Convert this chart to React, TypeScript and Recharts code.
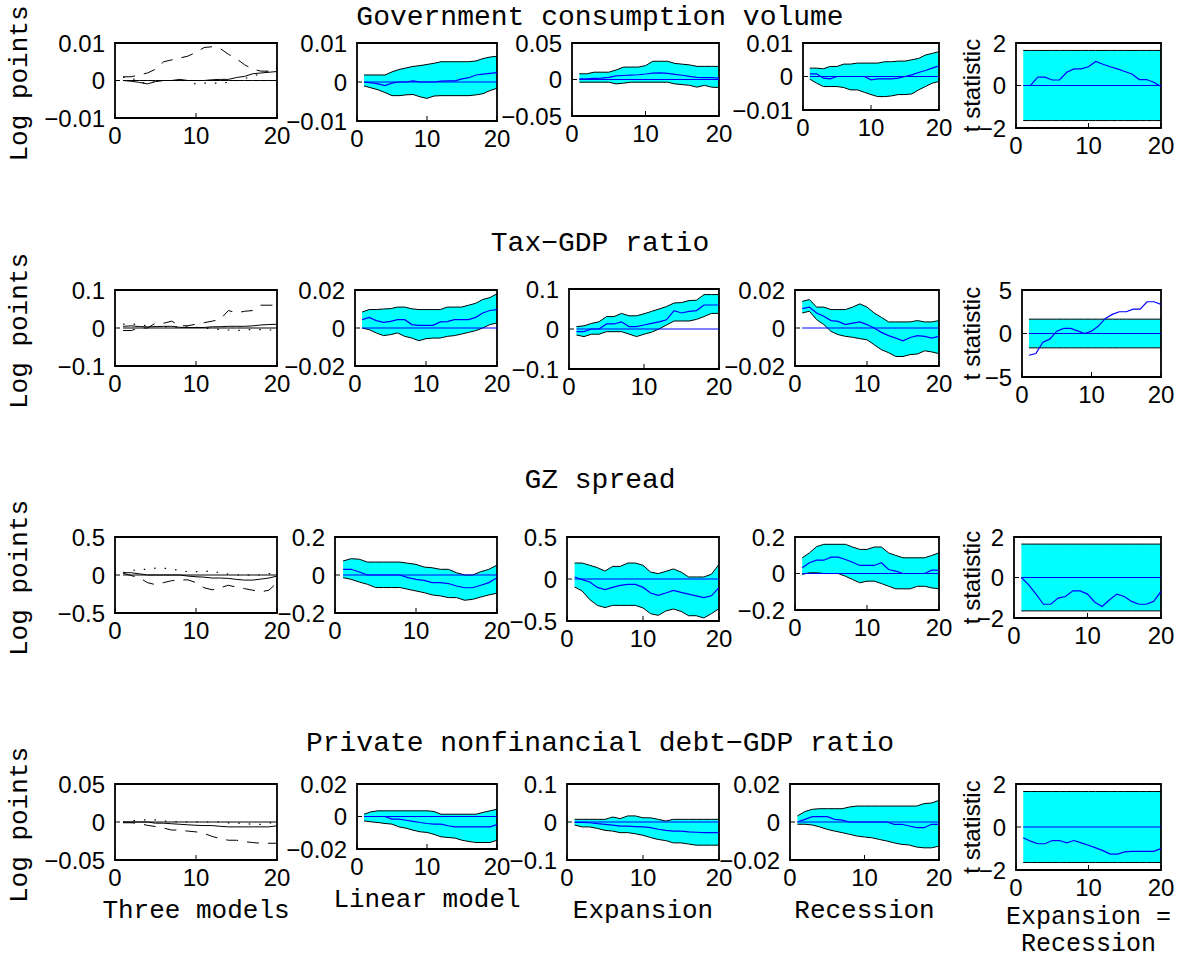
import React from "react";
import { ComposedChart, Line, Area, XAxis, YAxis, ReferenceArea } from "recharts";

// horizons (quarters after the shock)
const HORIZONS = [1, 2, 3, 4, 5, 6, 7, 8, 9, 10, 11, 12, 13, 14, 15, 16, 17, 18, 19, 20];
const X_TICKS = [0, 10, 20];
const CRIT = 1.65;

const TITLES = [
  "Government consumption volume",
  "Tax\u2212GDP ratio",
  "GZ spread",
  "Private nonfinancial debt\u2212GDP ratio",
];
const X_LABELS = ["Three models", "Linear model", "Expansion", "Recession"];
const LAST_X_LABEL = ["Expansion =", "Recession"];

// y-axis limits for each row: three models, linear, expansion, recession, t stat
const LIMS = [
  [0.01, 0.01, 0.05, 0.01, 2],
  [0.1, 0.02, 0.1, 0.02, 5],
  [0.5, 0.2, 0.5, 0.2, 2],
  [0.05, 0.02, 0.1, 0.02, 2],
];

// Government consumption volume
const GOV_LIN = [0, -0.0002, -0.0005, -0.0009, -0.0003, 0, 0, 0.0003, 0, 0, 0, 0.0002, 0.0003, 0.0003, 0.0008, 0.0011, 0.0018, 0.002, 0.0022, 0.0024];
const GOV_LIN_HI = [0.0018, 0.0018, 0.0018, 0.0018, 0.0026, 0.0032, 0.0036, 0.004, 0.0042, 0.0045, 0.0048, 0.0052, 0.0052, 0.0052, 0.0052, 0.0052, 0.0054, 0.006, 0.0064, 0.0066];
const GOV_LIN_LO = [-0.001, -0.0015, -0.002, -0.0027, -0.0035, -0.0035, -0.0033, -0.0032, -0.0038, -0.0042, -0.0036, -0.0035, -0.0035, -0.0035, -0.0035, -0.0035, -0.0033, -0.003, -0.0022, -0.0016];
const GOV_EXP = [0.001, 0.001, 0.0015, 0.002, 0.003, 0.005, 0.0055, 0.006, 0.0065, 0.0075, 0.0088, 0.009, 0.0085, 0.007, 0.0058, 0.0042, 0.003, 0.0025, 0.0025, 0.002];
const GOV_EXP_HI = [0.0078, 0.0078, 0.01, 0.01, 0.01, 0.013, 0.017, 0.017, 0.017, 0.019, 0.025, 0.025, 0.025, 0.022, 0.021, 0.02, 0.018, 0.018, 0.018, 0.018];
const GOV_EXP_LO = [-0.0037, -0.0037, -0.0037, -0.0037, -0.0037, -0.006, -0.005, -0.0037, -0.0037, -0.0037, -0.0037, -0.0037, -0.0037, -0.006, -0.007, -0.008, -0.0105, -0.008, -0.0105, -0.011];
const GOV_REC = [0.0008, 0.0008, -0.0005, -0.0007, 0, 0, 0, 0, 0, -0.001, -0.0007, -0.0007, -0.0007, -0.0005, 0, 0.0005, 0.0012, 0.0018, 0.0025, 0.0032];
const GOV_REC_HI = [0.0025, 0.0025, 0.0023, 0.003, 0.003, 0.0037, 0.0037, 0.004, 0.004, 0.004, 0.004, 0.0044, 0.0044, 0.0046, 0.0046, 0.005, 0.0054, 0.0064, 0.0069, 0.0074];
const GOV_REC_LO = [-0.0008, -0.002, -0.003, -0.003, -0.003, -0.0033, -0.004, -0.004, -0.0047, -0.0054, -0.006, -0.006, -0.0058, -0.0054, -0.0054, -0.0052, -0.004, -0.003, -0.002, -0.0015];
const GOV_T = [0, 0, 0.39, 0.39, 0.26, 0.26, 0.62, 0.78, 0.78, 0.88, 1.13, 1.0, 0.88, 0.78, 0.66, 0.54, 0.28, 0.28, 0.15, -0.05];

// Tax-GDP ratio
const TAX_LIN = [0.0044, 0.0056, 0.0039, 0.003, 0.0035, 0.0044, 0.0044, 0.0018, 0.0014, 0.0014, 0.0014, 0.0032, 0.0034, 0.0044, 0.0044, 0.0044, 0.0056, 0.0079, 0.0092, 0.0097];
const TAX_LIN_HI = [0.0084, 0.0097, 0.0097, 0.01, 0.0102, 0.011, 0.011, 0.0101, 0.0097, 0.0097, 0.0097, 0.0097, 0.011, 0.011, 0.011, 0.012, 0.013, 0.015, 0.016, 0.018];
const TAX_LIN_LO = [0, -0.0009, -0.0026, -0.004, -0.0035, -0.0026, -0.0044, -0.0053, -0.0067, -0.0056, -0.0053, -0.0053, -0.0044, -0.004, -0.0032, -0.0023, -0.0014, 0, 0.0018, 0.0026];
const TAX_EXP = [-0.0067, -0.0067, 0, 0, 0.0126, 0.0126, 0.018, 0.006, 0.006, 0.01, 0.014, 0.018, 0.023, 0.046, 0.04, 0.044, 0.046, 0.06, 0.06, 0.06];
const TAX_EXP_HI = [0.006, 0.008, 0.014, 0.018, 0.031, 0.031, 0.039, 0.033, 0.033, 0.038, 0.044, 0.05, 0.056, 0.065, 0.066, 0.071, 0.072, 0.086, 0.086, 0.086];
const TAX_EXP_LO = [-0.015, -0.019, -0.013, -0.013, -0.0067, -0.0067, -0.0067, -0.0126, -0.019, -0.013, -0.008, 0, 0.01, 0.02, 0.02, 0.02, 0.024, 0.031, 0.039, 0.039];
const TAX_REC = [0.0102, 0.011, 0.0079, 0.0062, 0.0039, 0.0035, 0.0018, 0.0026, 0.0032, 0.0018, 0, -0.0023, -0.004, -0.0053, -0.0067, -0.005, -0.004, -0.0044, -0.0053, -0.0044];
const TAX_REC_HI = [0.014, 0.015, 0.011, 0.011, 0.0097, 0.0097, 0.0097, 0.011, 0.0127, 0.011, 0.0079, 0.0056, 0.0032, 0.0032, 0.0032, 0.0032, 0.0039, 0.0032, 0.0032, 0.0039];
const TAX_REC_LO = [0.0079, 0.0088, 0.0044, 0.0018, -0.0018, -0.0035, -0.0044, -0.0049, -0.0056, -0.0062, -0.0088, -0.0114, -0.013, -0.015, -0.015, -0.014, -0.0137, -0.012, -0.0126, -0.0135];
const TAX_T = [-2.5, -2.3, -1.0, -0.65, 0.27, 0.58, 0.58, 0.3, 0, 0.27, 0.85, 1.73, 2.2, 2.5, 2.5, 2.8, 2.8, 3.65, 3.65, 3.35];

// GZ spread
const GZ_LIN = [0.03, 0.03, 0.016, 0, 0, 0, 0, 0, -0.014, -0.023, -0.028, -0.04, -0.04, -0.045, -0.058, -0.067, -0.067, -0.054, -0.04, -0.014];
const GZ_LIN_HI = [0.074, 0.086, 0.083, 0.068, 0.068, 0.068, 0.068, 0.068, 0.062, 0.056, 0.042, 0.038, 0.03, 0.03, 0.012, 0, 0, 0.0175, 0.03, 0.052];
const GZ_LIN_LO = [-0.014, -0.023, -0.037, -0.049, -0.066, -0.066, -0.066, -0.066, -0.075, -0.084, -0.093, -0.105, -0.11, -0.119, -0.119, -0.133, -0.128, -0.116, -0.105, -0.096];
const GZ_EXP = [0.024, -0.008, -0.036, -0.1, -0.127, -0.1, -0.075, -0.064, -0.064, -0.1, -0.167, -0.195, -0.167, -0.135, -0.16, -0.18, -0.2, -0.222, -0.2, -0.103];
const GZ_EXP_HI = [0.19, 0.19, 0.163, 0.135, 0.095, 0.15, 0.15, 0.19, 0.19, 0.163, 0.083, 0.064, 0.091, 0.12, 0.083, 0.024, 0.024, 0.024, 0.056, 0.175];
const GZ_EXP_LO = [-0.095, -0.143, -0.246, -0.314, -0.34, -0.314, -0.314, -0.314, -0.314, -0.345, -0.413, -0.433, -0.381, -0.357, -0.385, -0.437, -0.437, -0.464, -0.413, -0.353];
const GZ_REC = [0.031, 0.059, 0.073, 0.073, 0.09, 0.09, 0.077, 0.062, 0.044, 0.044, 0.044, 0.059, 0.022, 0.013, 0, 0, 0, 0, 0.018, 0.018];
const GZ_REC_HI = [0.086, 0.113, 0.147, 0.16, 0.16, 0.16, 0.16, 0.145, 0.132, 0.132, 0.145, 0.145, 0.113, 0.099, 0.086, 0.086, 0.086, 0.086, 0.099, 0.113];
const GZ_REC_LO = [-0.005, 0.004, 0.004, 0, 0, 0, -0.015, -0.033, -0.051, -0.042, -0.042, -0.055, -0.07, -0.084, -0.084, -0.084, -0.07, -0.07, -0.079, -0.084];
const GZ_T = [0, -0.36, -0.82, -1.32, -1.32, -1.02, -0.94, -0.66, -0.66, -0.82, -1.22, -1.43, -1.1, -0.82, -0.94, -1.18, -1.32, -1.32, -1.18, -0.69];

// Private nonfinancial debt-GDP ratio
const DEBT_LIN = [0, 0, 0, 0, -0.0016, -0.0016, -0.0023, -0.003, -0.0037, -0.0043, -0.0047, -0.0047, -0.0057, -0.0064, -0.0064, -0.0064, -0.0064, -0.0064, -0.0064, -0.005];
const DEBT_LIN_HI = [0.0014, 0.0029, 0.0035, 0.0035, 0.0035, 0.0035, 0.0035, 0.0035, 0.0035, 0.0035, 0.0031, 0.0014, 0.0014, 0.0014, 0.0014, 0.0014, 0.0014, 0.0025, 0.0035, 0.0045];
const DEBT_LIN_LO = [-0.0027, -0.0033, -0.0037, -0.0043, -0.0047, -0.0064, -0.0072, -0.0084, -0.0094, -0.0098, -0.011, -0.0125, -0.0129, -0.0133, -0.0146, -0.0154, -0.016, -0.016, -0.016, -0.0146];
const DEBT_EXP = [-0.001, -0.001, -0.002, -0.0044, -0.006, -0.008, -0.0106, -0.0106, -0.012, -0.013, -0.015, -0.019, -0.022, -0.024, -0.024, -0.026, -0.027, -0.028, -0.028, -0.028];
const DEBT_EXP_HI = [0.007, 0.007, 0.007, 0.007, 0.007, 0.013, 0.009, 0.016, 0.016, 0.011, 0.011, 0.007, 0.0026, 0.007, 0.007, 0.007, 0.007, 0.007, 0.007, 0.007];
const DEBT_EXP_LO = [-0.008, -0.013, -0.013, -0.017, -0.022, -0.024, -0.028, -0.028, -0.031, -0.035, -0.041, -0.046, -0.049, -0.055, -0.055, -0.058, -0.061, -0.061, -0.061, -0.061];
const DEBT_REC = [0, 0.0014, 0.0028, 0.0028, 0.0028, 0.0014, 0.001, 0, 0, 0, 0, 0, 0, -0.0012, -0.0012, -0.0021, -0.003, -0.003, -0.0012, -0.0012];
const DEBT_REC_HI = [0.0032, 0.0055, 0.0067, 0.007, 0.007, 0.007, 0.007, 0.0079, 0.0084, 0.0084, 0.0084, 0.0084, 0.0084, 0.0084, 0.0084, 0.0084, 0.0084, 0.0097, 0.01, 0.0114];
const DEBT_REC_LO = [-0.0012, -0.0012, -0.0016, -0.0026, -0.0039, -0.0048, -0.0056, -0.0065, -0.0074, -0.0079, -0.0083, -0.0092, -0.01, -0.011, -0.0118, -0.0121, -0.0132, -0.0136, -0.0136, -0.0127];
const DEBT_T = [-0.5, -0.66, -0.78, -0.78, -0.63, -0.63, -0.74, -0.63, -0.74, -0.85, -0.97, -1.1, -1.26, -1.26, -1.16, -1.13, -1.13, -1.13, -1.13, -1.0];

const SERIES = [
  { lin: GOV_LIN, linHi: GOV_LIN_HI, linLo: GOV_LIN_LO, exp: GOV_EXP, expHi: GOV_EXP_HI, expLo: GOV_EXP_LO, rec: GOV_REC, recHi: GOV_REC_HI, recLo: GOV_REC_LO, t: GOV_T },
  { lin: TAX_LIN, linHi: TAX_LIN_HI, linLo: TAX_LIN_LO, exp: TAX_EXP, expHi: TAX_EXP_HI, expLo: TAX_EXP_LO, rec: TAX_REC, recHi: TAX_REC_HI, recLo: TAX_REC_LO, t: TAX_T },
  { lin: GZ_LIN, linHi: GZ_LIN_HI, linLo: GZ_LIN_LO, exp: GZ_EXP, expHi: GZ_EXP_HI, expLo: GZ_EXP_LO, rec: GZ_REC, recHi: GZ_REC_HI, recLo: GZ_REC_LO, t: GZ_T },
  { lin: DEBT_LIN, linHi: DEBT_LIN_HI, linLo: DEBT_LIN_LO, exp: DEBT_EXP, expHi: DEBT_EXP_HI, expLo: DEBT_EXP_LO, rec: DEBT_REC, recHi: DEBT_REC_HI, recLo: DEBT_REC_LO, t: DEBT_T },
];

// layout: plot box [left, top, right, bottom] of every panel
const BOXES = [
  [[115, 43, 277, 118], [357, 43, 497, 121], [572, 43, 719, 116], [803, 43, 939, 110], [1016, 43, 1161, 128]],
  [[115, 290, 277, 366], [355, 290, 497, 366], [569, 289, 719, 369], [795, 290, 939, 366], [1022, 290, 1161, 377]],
  [[115, 537, 277, 613], [335, 537, 497, 613], [567, 537, 719, 621], [795, 537, 939, 610], [1014, 537, 1161, 618]],
  [[115, 784, 277, 860], [357, 784, 497, 849], [567, 784, 719, 860], [790, 784, 939, 860], [1016, 784, 1161, 870]],
];
const TITLE_Y = [17, 243, 480, 743];

const YW = 100;
const PR = 30;
const PT = 15;
const XH = 50;
const BLUE = "#0000ff";
const CYAN = "#00ffff";
const SANS = "'Liberation Sans', Arial, sans-serif";
const MONO = "'Liberation Mono', 'Courier New', monospace";
const TICK = { fontSize: 24, fill: "#000", fontFamily: SANS };

const fmt = (v: number) => (v === 0 ? "0" : v < 0 ? "\u2212" + String(-v) : String(v));

function buildRows(s: any) {
  return HORIZONS.map((h, i) => ({
    h,
    zero: 0,
    lin: s.lin[i],
    linLo: s.linLo[i],
    linHi: s.linHi[i],
    linBand: [s.linLo[i], s.linHi[i]],
    exp: s.exp[i],
    expLo: s.expLo[i],
    expHi: s.expHi[i],
    expBand: [s.expLo[i], s.expHi[i]],
    rec: s.rec[i],
    recLo: s.recLo[i],
    recHi: s.recHi[i],
    recBand: [s.recLo[i], s.recHi[i]],
    t: s.t[i],
    critLo: -CRIT,
    critHi: CRIT,
    crit: [-CRIT, CRIT],
  }));
}

function Panel({ box, lim, rows, col }: { box: number[]; lim: number; rows: any[]; col: number }) {
  const [x0, y0, x1, y1] = box;
  const w = x1 - x0 + YW + PR;
  const h = y1 - y0 + PT + XH;
  const key = ["", "lin", "exp", "rec"][col];
  return (
    <div style={{ position: "absolute", left: x0 - YW, top: y0 - PT }}>
      <ComposedChart width={w} height={h} data={rows} margin={{ top: PT, right: PR, left: 0, bottom: 0 }}>
        <XAxis
          dataKey="h"
          type="number"
          domain={[0, 20]}
          ticks={X_TICKS}
          interval={0}
          allowDataOverflow
          height={XH}
          axisLine={false}
          tickLine={{ stroke: "#000" }}
          tickSize={-5}
          tickMargin={14}
          tick={TICK}
        />
        <YAxis
          type="number"
          domain={[-lim, lim]}
          ticks={[-lim, 0, lim]}
          interval={0}
          allowDataOverflow
          width={YW}
          axisLine={false}
          tickLine={{ stroke: "#000" }}
          tickSize={-5}
          tickMargin={15}
          tick={TICK}
          tickFormatter={fmt}
        />
        {col === 0 && (
          <>
            <Line dataKey="zero" stroke="#000" strokeWidth={1} dot={false} isAnimationActive={false} />
            <Line dataKey="lin" stroke="#000" strokeWidth={1} dot={false} isAnimationActive={false} />
            <Line dataKey="exp" stroke="#000" strokeWidth={1} strokeDasharray="12 9" dot={false} isAnimationActive={false} />
            <Line dataKey="rec" stroke="#000" strokeWidth={1.2} strokeDasharray="1.5 9" dot={false} isAnimationActive={false} />
          </>
        )}
        {col >= 1 && col <= 3 && (
          <>
            <Area dataKey={key + "Band"} stroke="none" fill={CYAN} fillOpacity={1} isAnimationActive={false} />
            <Line dataKey={key + "Lo"} stroke="#000" strokeWidth={1} dot={false} isAnimationActive={false} />
            <Line dataKey={key + "Hi"} stroke="#000" strokeWidth={1} dot={false} isAnimationActive={false} />
            <Line dataKey="zero" stroke={BLUE} strokeWidth={1.2} dot={false} isAnimationActive={false} />
            <Line dataKey={key} stroke={BLUE} strokeWidth={1.2} dot={false} isAnimationActive={false} />
          </>
        )}
        {col === 4 && (
          <>
            <Area dataKey="crit" stroke="none" fill={CYAN} fillOpacity={1} isAnimationActive={false} />
            <Line dataKey="critLo" stroke="#000" strokeWidth={1} dot={false} isAnimationActive={false} />
            <Line dataKey="critHi" stroke="#000" strokeWidth={1} dot={false} isAnimationActive={false} />
            <Line dataKey="zero" stroke={BLUE} strokeWidth={1.2} dot={false} isAnimationActive={false} />
            <Line dataKey="t" stroke={BLUE} strokeWidth={1.2} dot={false} isAnimationActive={false} />
          </>
        )}
        <ReferenceArea x1={0} x2={20} y1={-lim} y2={lim} fill="none" fillOpacity={0} stroke="#000" strokeWidth={1.8} />
      </ComposedChart>
    </div>
  );
}

export default function App() {
  const tables = SERIES.map(buildRows);
  return (
    <div style={{ position: "absolute", left: 0, top: 0, width: 1191, height: 960, background: "#fff", overflow: "hidden" }}>
      {BOXES.map((row, r) =>
        row.map((box, c) => <Panel key={r + "-" + c} box={box} lim={LIMS[r][c]} rows={tables[r]} col={c} />)
      )}
      <svg width={1191} height={960} style={{ position: "absolute", left: 0, top: 0, pointerEvents: "none" }}>
        {TITLES.map((t, r) => (
          <text key={"t" + r} x={600} y={TITLE_Y[r]} textAnchor="middle" dominantBaseline="central" fontFamily={MONO} fontSize={28}>
            {t}
          </text>
        ))}
        {BOXES.map((row, r) => {
          const b1 = row[0];
          const b5 = row[4];
          const cy1 = (b1[1] + b1[3]) / 2 + 3;
          const cy5 = (b5[1] + b5[3]) / 2;
          return (
            <g key={"l" + r}>
              <text transform={`translate(20, ${cy1}) rotate(-90)`} textAnchor="middle" dominantBaseline="central" fontFamily={MONO} fontSize={26}>
                Log points
              </text>
              <text transform={`translate(971, ${cy5}) rotate(-90)`} textAnchor="middle" dominantBaseline="central" fontFamily={SANS} fontSize={24}>
                t statistic
              </text>
            </g>
          );
        })}
        {X_LABELS.map((lab, c) => {
          const b = BOXES[3][c];
          return (
            <text key={"x" + c} x={(b[0] + b[2]) / 2} y={c === 1 ? 900 : 911} textAnchor="middle" dominantBaseline="central" fontFamily={MONO} fontSize={26}>
              {lab}
            </text>
          );
        })}
        {LAST_X_LABEL.map((lab, i) => {
          const b = BOXES[3][4];
          return (
            <text key={"e" + i} x={(b[0] + b[2]) / 2} y={917 + i * 27} textAnchor="middle" dominantBaseline="central" fontFamily={MONO} fontSize={25}>
              {lab}
            </text>
          );
        })}
      </svg>
    </div>
  );
}
